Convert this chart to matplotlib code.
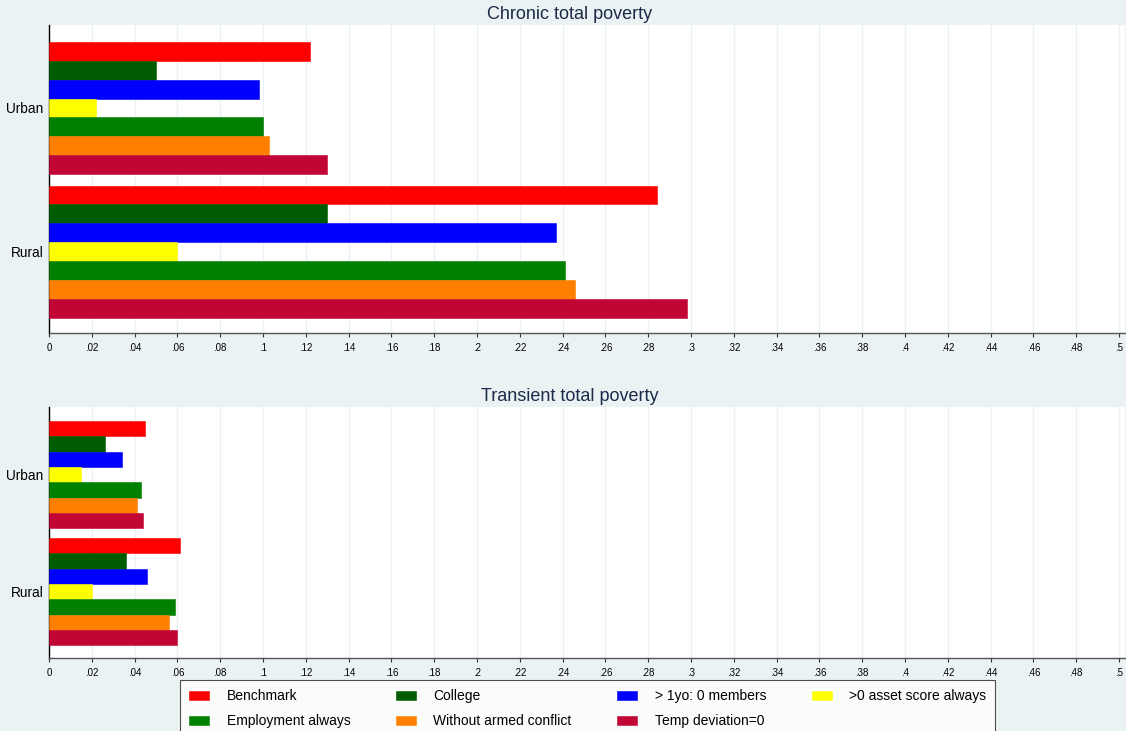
import matplotlib
matplotlib.use("Agg")
import matplotlib.pyplot as plt
from matplotlib.ticker import FuncFormatter
import numpy as np

plt.rcParams['font.family'] = ['Liberation Sans', 'DejaVu Sans']

groups = ['Urban', 'Rural']
series = ['Benchmark', 'College', '> 1yo: 0 members', '>0 asset score always',
          'Employment always', 'Without armed conflict', 'Temp deviation=0']
colors = ['#ff0000', '#005c00', '#0000ff', '#ffff00',
          '#008000', '#ff8000', '#c10534']

# values per series, [Urban, Rural]
chronic_urban = [0.122, 0.050, 0.098, 0.022, 0.100, 0.103, 0.130]
chronic_rural = [0.284, 0.130, 0.237, 0.060, 0.241, 0.246, 0.298]
transient_urban = [0.045, 0.026, 0.034, 0.015, 0.043, 0.041, 0.044]
transient_rural = [0.061, 0.036, 0.046, 0.020, 0.059, 0.056, 0.060]

bg = '#eaf2f3'
title_col = '#1c2a48'
ticks = np.arange(0, 0.501, 0.02)


def fmt(v, pos):
    s = ('%.2f' % v).rstrip('0').rstrip('.')
    if s.startswith('0.'):
        s = s[1:]
    return s if s else '0'


def draw(ax, urban, rural, title):
    n = len(series)
    gap = 0.62
    ypos_u = np.arange(n)
    ypos_r = np.arange(n) + n + gap
    bars = []
    for i in range(n):
        b = ax.barh([ypos_u[i], ypos_r[i]], [urban[i], rural[i]], height=1.0,
                    color=colors[i], edgecolor=colors[i], linewidth=0.4,
                    label=series[i], zorder=3)
        bars.append(b)
    ax.set_ylim(2 * n + gap - 0.5 + 0.82, -0.5 - 0.9)
    ax.set_yticks([(n - 1) / 2, n + gap + (n - 1) / 2])
    ax.set_yticklabels(groups, fontsize=9.8)
    ax.tick_params(axis='y', length=0, pad=4)
    ax.set_xlim(0, 0.5028)
    ax.set_xticks(ticks)
    ax.xaxis.set_major_formatter(FuncFormatter(fmt))
    ax.tick_params(axis='x', labelsize=7, length=3, width=0.8,
                   color='#333333', pad=4)
    ax.grid(axis='x', color=bg, linewidth=1.0, zorder=0)
    ax.set_axisbelow(True)
    ax.set_facecolor('white')
    for s in ['top', 'right']:
        ax.spines[s].set_visible(False)
    ax.spines['left'].set_color('black')
    ax.spines['left'].set_linewidth(1.0)
    ax.spines['bottom'].set_color('#555555')
    ax.spines['bottom'].set_linewidth(1.0)
    ax.set_title(title, fontsize=13, color=title_col, pad=4, x=0.484)
    return bars


fig = plt.figure(figsize=(11.26, 7.31), dpi=100, facecolor=bg)
ax1 = fig.add_axes([49 / 1126, 1 - 333 / 731, 1076 / 1126, 308 / 731])
ax2 = fig.add_axes([49 / 1126, 1 - 658 / 731, 1076 / 1126, 251 / 731])

bars = draw(ax1, chronic_urban, chronic_rural, 'Chronic total poverty')
draw(ax2, transient_urban, transient_rural, 'Transient total poverty')

# legend in 4 columns, filled row by row
order = [0, 4, 1, 5, 2, 6, 3]
leg = fig.legend([bars[i] for i in order], [series[i] for i in order],
                 ncol=4, loc='upper left',
                 bbox_to_anchor=(180 / 1126, 1 - 680 / 731),
                 fontsize=10, frameon=True, fancybox=False,
                 columnspacing=3.28, handlelength=1.45, handleheight=0.65,
                 handletextpad=1.25, labelspacing=0.82, borderpad=0.65,
                 borderaxespad=0)
leg.get_frame().set_edgecolor('#222222')
leg.get_frame().set_linewidth(0.8)
leg.get_frame().set_facecolor('white')

fig.savefig('out.png', dpi=100, facecolor=bg)
